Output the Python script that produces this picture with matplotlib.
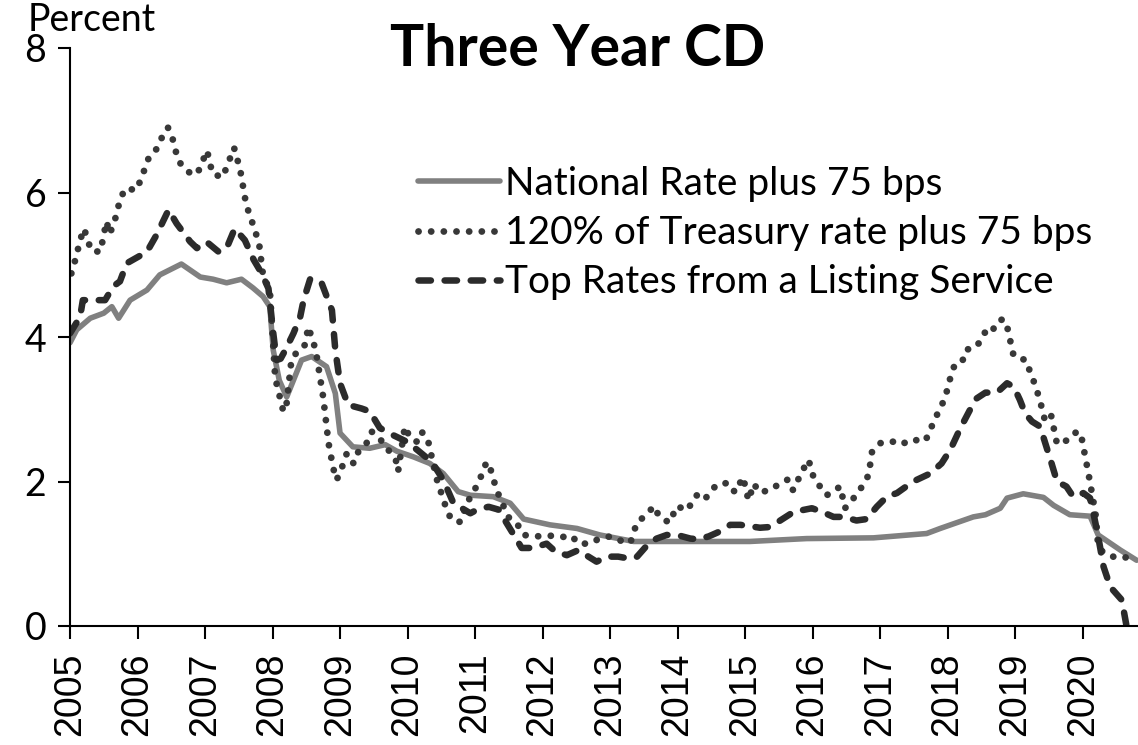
import matplotlib
matplotlib.use("Agg")
import matplotlib.pyplot as plt

# National rate plus 75 bps (solid gray)
nat_x = [2005.00, 2005.10, 2005.30, 2005.50, 2005.62, 2005.72, 2005.89, 2006.14, 2006.33, 2006.65,
         2006.93, 2007.12, 2007.32, 2007.54, 2007.71, 2007.86, 2007.96, 2008.01, 2008.10, 2008.21,
         2008.43, 2008.58, 2008.80, 2008.93, 2009.00, 2009.19, 2009.44, 2009.67, 2009.84, 2010.09,
         2010.33, 2010.53, 2010.75, 2010.93, 2011.27, 2011.52, 2011.72, 2012.11, 2012.51, 2012.85,
         2013.35, 2014.33, 2015.07, 2015.91, 2016.90, 2017.69, 2017.89, 2018.38, 2018.56, 2018.78,
         2018.88, 2019.12, 2019.42, 2019.57, 2019.81, 2020.11, 2020.23, 2020.56, 2020.80]
nat_y = [3.92, 4.10, 4.26, 4.33, 4.42, 4.26, 4.51, 4.65, 4.86, 5.01,
         4.83, 4.80, 4.75, 4.80, 4.68, 4.56, 4.42, 3.82, 3.40, 3.17,
         3.68, 3.73, 3.59, 3.22, 2.67, 2.48, 2.46, 2.51, 2.42, 2.34,
         2.25, 2.11, 1.86, 1.81, 1.79, 1.70, 1.48, 1.40, 1.35, 1.26,
         1.17, 1.17, 1.17, 1.21, 1.22, 1.28, 1.35, 1.51, 1.54, 1.63,
         1.77, 1.83, 1.78, 1.67, 1.54, 1.52, 1.26, 1.05, 0.91]

# 120% of Treasury rate plus 75 bps (dotted)
tsy_x = [2005.02, 2005.07, 2005.16, 2005.21, 2005.26, 2005.32, 2005.45, 2005.54, 2005.59, 2005.66,
         2005.75, 2005.83, 2005.98, 2006.05, 2006.17, 2006.29, 2006.36, 2006.45, 2006.51, 2006.60,
         2006.70, 2006.83, 2006.90, 2007.03, 2007.11, 2007.26, 2007.32, 2007.43, 2007.52, 2007.61,
         2007.67, 2007.80, 2007.86, 2007.96, 2008.04, 2008.16, 2008.20, 2008.28, 2008.38, 2008.48,
         2008.53, 2008.64, 2008.75, 2008.83, 2008.90, 2008.95, 2009.03, 2009.10, 2009.20, 2009.27,
         2009.40, 2009.47, 2009.64, 2009.84, 2009.86, 2009.96, 2010.04, 2010.16, 2010.22, 2010.31,
         2010.43, 2010.58, 2010.65, 2010.78, 2010.88, 2011.05, 2011.17, 2011.22, 2011.32, 2011.49,
         2011.62, 2011.72, 2011.89, 2012.11, 2012.28, 2012.43, 2012.53, 2012.70, 2012.84, 2013.00,
         2013.12, 2013.30, 2013.40, 2013.52, 2013.65, 2013.73, 2013.88, 2013.99, 2014.14, 2014.28,
         2014.39, 2014.58, 2014.75, 2014.85, 2014.97, 2015.05, 2015.13, 2015.21, 2015.37, 2015.51,
         2015.64, 2015.71, 2015.85, 2015.94, 2016.02, 2016.21, 2016.41, 2016.48, 2016.68, 2016.83,
         2016.88, 2017.00, 2017.16, 2017.32, 2017.44, 2017.67, 2017.81, 2017.96, 2018.05, 2018.11,
         2018.22, 2018.28, 2018.36, 2018.47, 2018.55, 2018.65, 2018.71, 2018.82, 2018.89, 2018.97,
         2019.06, 2019.15, 2019.26, 2019.36, 2019.44, 2019.53, 2019.62, 2019.80, 2019.92, 2019.99,
         2020.09, 2020.19, 2020.23, 2020.31, 2020.51, 2020.65, 2020.80]
tsy_y = [4.88, 5.04, 5.37, 5.50, 5.34, 5.19, 5.18, 5.60, 5.43, 5.60,
         5.93, 6.06, 6.03, 6.18, 6.49, 6.61, 6.76, 6.90, 6.78, 6.45,
         6.32, 6.24, 6.29, 6.58, 6.26, 6.21, 6.35, 6.62, 6.32, 5.83,
         5.67, 5.30, 4.85, 4.65, 3.43, 2.97, 3.01, 3.68, 3.82, 3.89,
         4.14, 3.82, 3.17, 2.53, 2.18, 2.02, 2.20, 2.39, 2.25, 2.41,
         2.54, 2.69, 2.54, 2.27, 2.14, 2.76, 2.60, 2.54, 2.68, 2.54,
         2.04, 1.61, 1.47, 1.44, 1.70, 1.98, 2.27, 2.20, 1.88, 1.51,
         1.42, 1.26, 1.24, 1.25, 1.23, 1.25, 1.14, 1.14, 1.21, 1.24,
         1.19, 1.15, 1.44, 1.52, 1.66, 1.51, 1.43, 1.66, 1.60, 1.81,
         1.74, 1.96, 1.98, 1.85, 2.06, 1.74, 1.97, 1.85, 1.88, 1.97,
         2.03, 1.88, 2.15, 2.30, 2.04, 1.81, 1.93, 1.63, 1.85, 2.09,
         2.41, 2.53, 2.56, 2.51, 2.58, 2.56, 2.86, 3.15, 3.47, 3.63,
         3.67, 3.83, 3.83, 3.92, 4.06, 4.04, 4.19, 4.25, 4.11, 3.77,
         3.69, 3.69, 3.43, 3.15, 2.85, 2.93, 2.52, 2.58, 2.70, 2.58,
         2.09, 1.56, 1.11, 1.01, 0.94, 0.95, 0.90]

# Top rates from a listing service (dashed)
top_x = [2005.00, 2005.15, 2005.19, 2005.52, 2005.64, 2005.74, 2005.84, 2006.01, 2006.14, 2006.28,
         2006.46, 2006.58, 2006.78, 2006.88, 2007.02, 2007.20, 2007.32, 2007.44, 2007.59, 2007.72,
         2007.84, 2007.94, 2008.01, 2008.06, 2008.12, 2008.19, 2008.31, 2008.41, 2008.46, 2008.56,
         2008.73, 2008.88, 2008.93, 2009.00, 2009.12, 2009.32, 2009.44, 2009.59, 2009.79, 2009.99,
         2010.14, 2010.36, 2010.53, 2010.68, 2010.93, 2011.03, 2011.20, 2011.35, 2011.47, 2011.62,
         2011.69, 2011.86, 2012.06, 2012.19, 2012.36, 2012.53, 2012.68, 2012.80, 2012.95, 2013.12,
         2013.30, 2013.40, 2013.57, 2013.69, 2013.84, 2013.99, 2014.19, 2014.31, 2014.46, 2014.63,
         2014.78, 2014.93, 2015.22, 2015.37, 2015.57, 2015.72, 2015.99, 2016.14, 2016.31, 2016.46,
         2016.65, 2016.80, 2016.95, 2017.10, 2017.25, 2017.49, 2017.74, 2017.91, 2018.04, 2018.19,
         2018.33, 2018.43, 2018.56, 2018.73, 2018.88, 2018.98, 2019.07, 2019.15, 2019.25, 2019.37,
         2019.44, 2019.54, 2019.62, 2019.76, 2019.86, 2020.01, 2020.11, 2020.16, 2020.23, 2020.31,
         2020.41, 2020.58, 2020.65]
top_y = [4.05, 4.28, 4.51, 4.51, 4.70, 4.77, 5.02, 5.11, 5.18, 5.41,
         5.76, 5.57, 5.32, 5.23, 5.32, 5.18, 5.23, 5.50, 5.34, 5.07,
         4.88, 4.67, 4.06, 3.68, 3.70, 3.82, 4.05, 4.28, 4.51, 4.81,
         4.74, 4.37, 3.82, 3.36, 3.06, 3.01, 2.97, 2.74, 2.64, 2.55,
         2.44, 2.27, 2.02, 1.70, 1.56, 1.61, 1.65, 1.61, 1.42, 1.19,
         1.08, 1.08, 1.14, 1.03, 0.98, 1.05, 0.96, 0.89, 0.96, 0.96,
         0.93, 0.96, 1.14, 1.21, 1.26, 1.26, 1.21, 1.20, 1.24, 1.31,
         1.40, 1.40, 1.36, 1.37, 1.49, 1.58, 1.63, 1.58, 1.51, 1.51,
         1.46, 1.48, 1.65, 1.79, 1.84, 2.00, 2.11, 2.25, 2.44, 2.74,
         2.99, 3.15, 3.23, 3.23, 3.36, 3.31, 3.13, 2.94, 2.83, 2.76,
         2.55, 2.25, 2.00, 1.93, 1.79, 1.84, 1.77, 1.56, 1.24, 0.82,
         0.54, 0.36, 0.00]

years = list(range(2005, 2021))
labels = ["National Rate plus 75 bps", "120% of Treasury rate plus 75 bps",
          "Top Rates from a Listing Service"]

fig = plt.figure(figsize=(11.38, 7.45), dpi=100)
ax = fig.add_axes([70 / 1138, 1 - 626 / 745, 1068 / 1138, 578 / 745])

ax.plot(nat_x, nat_y, color="#808080", lw=4.0, solid_capstyle="round",
        solid_joinstyle="round", label=labels[0])
ax.plot(tsy_x, tsy_y, color="#383838", lw=4.9, linestyle=(0, (0.01, 1.85)),
        dash_capstyle="round", label=labels[1])
ax.plot(top_x, top_y, color="#2b2b2b", lw=4.7, linestyle=(0, (1.9, 2.1)),
        dash_capstyle="round", dash_joinstyle="round", label=labels[2])

ax.set_xlim(2005, 2020.82)
ax.set_ylim(0, 8)
ax.set_yticks([0, 2, 4, 6, 8])
ax.set_xticks(years)
ax.set_xticklabels([str(y) for y in years], rotation=90, fontsize=27,
                   family="Liberation Sans")
ax.tick_params(axis="y", labelsize=27, length=9, width=1.5, direction="out", pad=8)
ax.tick_params(axis="x", length=9, width=1.5, direction="out", pad=10)
for lab in ax.get_yticklabels():
    lab.set_family("Lato")
for s in ["top", "right"]:
    ax.spines[s].set_visible(False)
ax.spines["left"].set_linewidth(1.5)
ax.spines["bottom"].set_linewidth(1.5)

fig.text(28 / 1138, 1 - 20 / 745, "Percent", fontsize=27, family="Lato", va="center")
fig.text(578 / 1138, 1 - 50 / 745, "Three Year CD", fontsize=41, family="Lato",
         fontweight="bold", ha="center", va="center")

ax.legend(loc="upper left", bbox_to_anchor=(418 / 1138, 1 - 166 / 745),
          bbox_transform=fig.transFigure, frameon=False,
          prop={"family": "Lato", "size": 28}, handlelength=2.1, handletextpad=0.13,
          labelspacing=0.34, borderpad=0, borderaxespad=0)

fig.savefig("out.png", dpi=100)
